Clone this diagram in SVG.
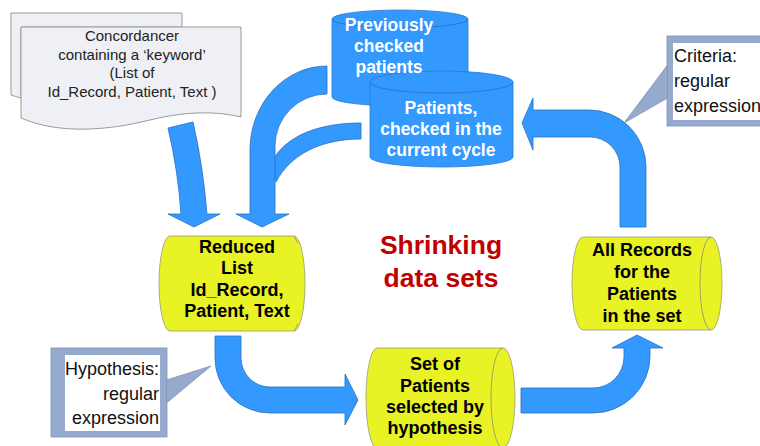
<svg xmlns="http://www.w3.org/2000/svg" width="760" height="446" viewBox="0 0 760 446">
<style>
.t{font-family:"Liberation Sans",Arial,sans-serif}
.doc{fill:#eef0f6;stroke:#9a9a9a;stroke-width:1}
.blue{fill:#3399ff;stroke:#2a78cc;stroke-width:0.8}
.arr{fill:#3399ff;stroke:#2a6fbd;stroke-width:0.8}
.yel{fill:#e8f224;stroke:#9a9a7c;stroke-width:0.8}
.yl{fill:none;stroke:#8e8e6a;stroke-width:0.8}
.bl{fill:none;stroke:#2a6fbd;stroke-width:0.8}
.wt{fill:#ffffff;font-weight:bold;font-size:17.5px;text-anchor:middle}
.bk{fill:#000000;font-weight:bold;font-size:18px;text-anchor:middle}
.dt{fill:#222222;font-size:15px;text-anchor:middle}
.cb{fill:#95aacd;stroke:#7f94b8;stroke-width:0.8}
.ct{fill:#111111;font-size:18px}
</style>
<rect width="760" height="446" fill="#ffffff"/>

<g id="concordancer">
<path class="doc" d="M11,13 L182,13 L182,27 L21,27 L21,98 C17,97 14,96 11,95 Z"/>
<path class="doc" d="M21,27 L241,27 L241,117 C220,112 190,110 150,120 C110,130 60,135 21,118 Z"/>
<text class="t dt" x="132" y="41">Concordancer</text>
<text class="t dt" x="132" y="59.5">containing a ‘keyword’</text>
<text class="t dt" x="132" y="78">(List of</text>
<text class="t dt" x="132" y="96.5">Id_Record, Patient, Text )</text>
</g>

<g id="connectors">
<path id="a-conc" class="arr" d="M168,128 L193,122 Q203,165 207,214 L220,214 L194,227 L168,214 L181,214 Q178,170 168,128 Z"/>
<path id="a-current" class="arr" d="M361,123 C330,123 292,130 274,158 L276,182 C290,155 320,139 361,139 Z"/>
<path id="a-prev" class="arr" d="M327,66 A77,84 0 0 0 250,150 L250,214 L236,214 L262,227 L289,214 L275,214 L275,146 A52,52 0 0 1 327,94 Z"/>
<path id="a-hyp" class="arr" d="M215,336 L241,336 L241,358 A29,29 0 0 0 270,387 L345,387 L345,374 L358,400 L345,425 L345,413 L270,413 A55,55 0 0 1 215,358 Z"/>
<path id="a-set" class="arr" d="M521,388 L593,388 A31,31 0 0 0 624,357 L624,348 L612,348 L637,335 L663,348 L650,348 L650,356 A57,57 0 0 1 593,413 L521,413 Z"/>
<path id="a-all" class="arr" d="M620,227 L620,167 A30,30 0 0 0 590,137 L533,137 L533,150 L522,123 L533,98 L533,110 L589,110 A57,57 0 0 1 646,167 L646,227 Z"/>
</g>

<g id="previously">
<path class="blue" d="M332,19 A68,9 0 0 1 468,19 L468,97 A68,9 0 0 1 332,97 Z"/>
<path class="bl" d="M332,19 A68,9 0 0 0 468,19"/>
</g>

<g id="current">
<path class="blue" d="M370,82 A71.5,11 0 0 1 513,82 L513,157 A71.5,10 0 0 1 370,157 Z"/>
<path class="bl" d="M370,82 A71.5,11 0 0 0 513,82"/>
<text class="t wt" x="441" y="114">Patients,</text>
<text class="t wt" x="441" y="135">checked in the</text>
<text class="t wt" x="441" y="156">current cycle</text>
</g>

<g id="previously-label">
<text class="t wt" x="389" y="31">Previously</text>
<text class="t wt" x="389" y="52">checked</text>
<text class="t wt" x="389" y="73">patients</text>
</g>

<g id="criteria">
<rect class="cb" x="667" y="36" width="100" height="90"/>
<polygon class="cb" points="667.5,65 624,123 667.5,98"/>
<rect x="673" y="43" width="90" height="77" fill="#ffffff"/>
<text class="t ct" x="674" y="62">Criteria:</text>
<text class="t ct" x="674" y="87">regular</text>
<text class="t ct" x="674" y="112">expression</text>
</g>

<g id="reduced">
<path class="yel" d="M170,236 L294,236 A11,47.5 0 0 1 294,331 L170,331 A11,47.5 0 0 1 170,236 Z"/>
<path class="yl" d="M294,236 L298,243 M294,331 L298,324"/>
<text class="t bk" x="237" y="253">Reduced</text>
<text class="t bk" x="237" y="274">List</text>
<text class="t bk" x="237" y="296">Id_Record,</text>
<text class="t bk" x="237" y="317">Patient, Text</text>
</g>

<g id="title">
<text class="t" x="441" y="254" fill="#c00000" font-weight="bold" font-size="26.5" text-anchor="middle">Shrinking</text>
<text class="t" x="441" y="287" fill="#c00000" font-weight="bold" font-size="26.5" text-anchor="middle">data sets</text>
</g>

<g id="allrecords">
<path class="yel" d="M583,237 L711,237 A11,46.5 0 0 1 711,330 L583,330 A11,46.5 0 0 1 583,237 Z"/>
<path class="yl" d="M711,237 A11,46.5 0 0 0 711,330"/>
<text class="t bk" x="642" y="256">All Records</text>
<text class="t bk" x="642" y="278">for the</text>
<text class="t bk" x="642" y="300">Patients</text>
<text class="t bk" x="642" y="322">in the set</text>
</g>

<g id="setofpatients">
<path class="yel" d="M377,348 L503,348 A12,50 0 0 1 503,448 L377,448 A11,50 0 0 1 377,348 Z"/>
<path class="yl" d="M503,348 A12,50 0 0 0 503,448"/>
<text class="t bk" x="435" y="370">Set of</text>
<text class="t bk" x="435" y="392">Patients</text>
<text class="t bk" x="435" y="413">selected by</text>
<text class="t bk" x="435" y="434">hypothesis</text>
</g>

<g id="hypothesis">
<rect class="cb" x="51" y="348" width="116" height="89"/>
<polygon class="cb" points="166.5,380 211,366 166.5,403"/>
<rect x="65" y="355" width="95" height="76" fill="#ffffff"/>
<text class="t ct" x="159" y="375" text-anchor="end">Hypothesis:</text>
<text class="t ct" x="159" y="400" text-anchor="end">regular</text>
<text class="t ct" x="159" y="424" text-anchor="end">expression</text>
</g>
</svg>
